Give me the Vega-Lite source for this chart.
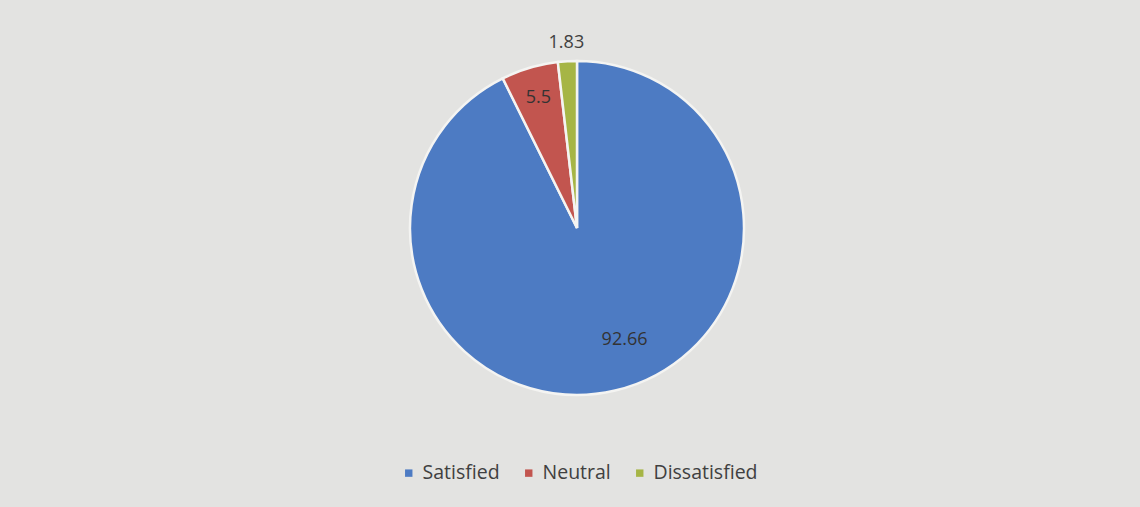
{
  "$schema": "https://vega.github.io/schema/vega-lite/v6.json",
  "autosize": {"type": "fit", "contains": "padding"},
  "width": 1140,
  "height": 507,
  "padding": {"left": 14, "right": 0, "top": 0, "bottom": 51},
  "background": "#e3e3e1",
  "config": {"view": {"stroke": null}, "font": "Open Sans"},
  "data": {
    "values": [
      {"category": "Satisfied", "value": 92.66, "rank": 1},
      {"category": "Neutral", "value": 5.5, "rank": 2},
      {"category": "Dissatisfied", "value": 1.83, "rank": 3}
    ]
  },
  "encoding": {
    "theta": {"field": "value", "type": "quantitative", "stack": true},
    "order": {"field": "rank", "type": "quantitative"}
  },
  "layer": [
    {
      "mark": {"type": "arc", "outerRadius": 167, "stroke": "#f4f4f2", "strokeWidth": 2.5},
      "encoding": {
        "color": {
          "field": "category",
          "type": "nominal",
          "scale": {"domain": ["Satisfied", "Neutral", "Dissatisfied"], "range": ["#4d7bc3", "#c2554f", "#a6b545"]},
          "legend": {
            "title": null,
            "orient": "none",
            "legendX": 385,
            "legendY": 463,
            "direction": "horizontal",
            "symbolType": "square",
            "symbolSize": 55,
            "labelFontSize": 19.5,
            "labelColor": "#404040",
            "labelFont": "Open Sans",
            "labelOffset": 4,
            "columnPadding": 19,
            "symbolStrokeWidth": 0
          }
        }
      }
    },
    {
      "mark": {"type": "text", "radius": 122, "thetaOffset": -0.17, "fontSize": 18, "color": "#333333"},
      "encoding": {
        "text": {"condition": {"test": "datum.category === 'Satisfied'", "field": "value", "type": "nominal"}, "value": ""}
      }
    },
    {
      "mark": {"type": "text", "radius": 136, "fontSize": 18, "color": "#333333"},
      "encoding": {
        "text": {"condition": {"test": "datum.category === 'Neutral'", "field": "value", "type": "nominal"}, "value": ""}
      }
    },
    {
      "mark": {"type": "text", "radius": 185, "fontSize": 18, "color": "#404040"},
      "encoding": {
        "text": {"condition": {"test": "datum.category === 'Dissatisfied'", "field": "value", "type": "nominal"}, "value": ""}
      }
    }
  ]
}
